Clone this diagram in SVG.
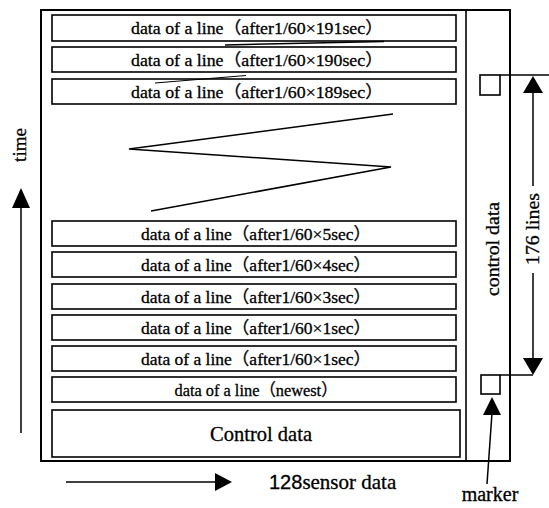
<svg xmlns="http://www.w3.org/2000/svg" width="549" height="508" viewBox="0 0 549 508">
<defs>
<style>
.box{fill:#fff;stroke:#000;stroke-width:1.6}
.ln{fill:none;stroke:#000;stroke-width:1.5}
.t{font-family:"Liberation Serif","Noto Sans CJK JP",serif;font-size:17px;fill:#000;stroke:#000;stroke-width:0.3;text-anchor:middle}
.big{font-size:21px}
.side{font-size:19px}
.mk{font-size:20px}
.sens{font-family:"Liberation Serif",serif;font-size:21px;fill:#000;stroke:#000;stroke-width:0.3}
.sans{font-family:"Liberation Sans",Arial,sans-serif}
</style>
</defs>
<rect width="549" height="508" fill="#fff"/>
<g id="frame">
<rect x="41" y="10" width="469" height="451" fill="#fff" stroke="#000" stroke-width="2"/>
<line x1="466" y1="10" x2="466" y2="461" stroke="#000" stroke-width="1.6"/>
</g>
<g id="row191"><rect class="box" x="52" y="15" width="404" height="26"/><text class="t" x="257" y="34" textLength="252" lengthAdjust="spacingAndGlyphs">data of a line（after1/60×191sec）</text></g>
<g id="row190"><rect class="box" x="52" y="47" width="404" height="25"/><text class="t" x="257" y="66" textLength="252" lengthAdjust="spacingAndGlyphs">data of a line（after1/60×190sec）</text></g>
<g id="row189"><rect class="box" x="52" y="79" width="404" height="25"/><text class="t" x="257" y="98" textLength="252" lengthAdjust="spacingAndGlyphs">data of a line（after1/60×189sec）</text></g>
<g id="row5"><rect class="box" x="52" y="221" width="404" height="25"/><text class="t" x="256" y="240" textLength="230" lengthAdjust="spacingAndGlyphs">data of a line（after1/60×5sec）</text></g>
<g id="row4"><rect class="box" x="52" y="252" width="404" height="25"/><text class="t" x="256" y="271" textLength="230" lengthAdjust="spacingAndGlyphs">data of a line（after1/60×4sec）</text></g>
<g id="row3"><rect class="box" x="52" y="284" width="404" height="25"/><text class="t" x="256" y="303" textLength="230" lengthAdjust="spacingAndGlyphs">data of a line（after1/60×3sec）</text></g>
<g id="row1a"><rect class="box" x="52" y="315" width="404" height="25"/><text class="t" x="256" y="334" textLength="230" lengthAdjust="spacingAndGlyphs">data of a line（after1/60×1sec）</text></g>
<g id="row1b"><rect class="box" x="52" y="346" width="404" height="25"/><text class="t" x="256" y="365" textLength="230" lengthAdjust="spacingAndGlyphs">data of a line（after1/60×1sec）</text></g>
<g id="rownew"><rect class="box" x="52" y="377" width="404" height="25"/><text class="t" x="256" y="396" textLength="163" lengthAdjust="spacingAndGlyphs">data of a line（newest）</text></g>
<g id="control"><rect class="box" x="52" y="410" width="408" height="47"/><text class="t big" x="261" y="441" textLength="102" lengthAdjust="spacingAndGlyphs">Control data</text></g>
<g id="ctrlcol"><text class="t side" transform="translate(499,249) rotate(-90)" textLength="94" lengthAdjust="spacingAndGlyphs">control data</text></g>
<g id="markers">
<rect class="box" x="480" y="75" width="20" height="20"/>
<rect class="box" x="481" y="375" width="19" height="19"/>
</g>
<g id="labels">
<text class="t side" transform="translate(26,145) rotate(-90)">time</text>
<text class="t side" transform="translate(539,229) rotate(-90)" textLength="72" lengthAdjust="spacingAndGlyphs">176 lines</text>
<text class="sens" x="269" y="489"><tspan class="sans" font-size="20">128</tspan>sensor data</text>
<text class="t mk" x="490" y="501">marker</text>
</g>
<g id="connectors">
<polyline class="ln" points="393,114 129,149 391,167 151,211"/>
<line x1="225" y1="45" x2="384" y2="41.5" stroke="#000" stroke-width="1.5"/>
<line x1="155" y1="83" x2="246" y2="75.5" stroke="#000" stroke-width="1.2"/>
<line class="ln" x1="500" y1="75" x2="549" y2="75"/>
<line class="ln" x1="500" y1="375" x2="533" y2="375"/>
<line class="ln" x1="533" y1="93" x2="533" y2="186"/>
<line class="ln" x1="533" y1="273" x2="533" y2="358"/>
<path d="M533,76 L523,93 L543,93 Z" fill="#000"/>
<path d="M533,375 L523,358 L543,358 Z" fill="#000"/>
<line class="ln" x1="21" y1="205" x2="21" y2="433"/>
<path d="M21,188 L12,208 L30,208 Z" fill="#000"/>
<line class="ln" x1="66" y1="482" x2="216" y2="482"/>
<path d="M232,482 L215,473 L215,491 Z" fill="#000"/>
<line class="ln" x1="492" y1="413" x2="487" y2="484"/>
<path d="M492,397 L483,415 L501,415 Z" fill="#000"/>
</g>
</svg>
